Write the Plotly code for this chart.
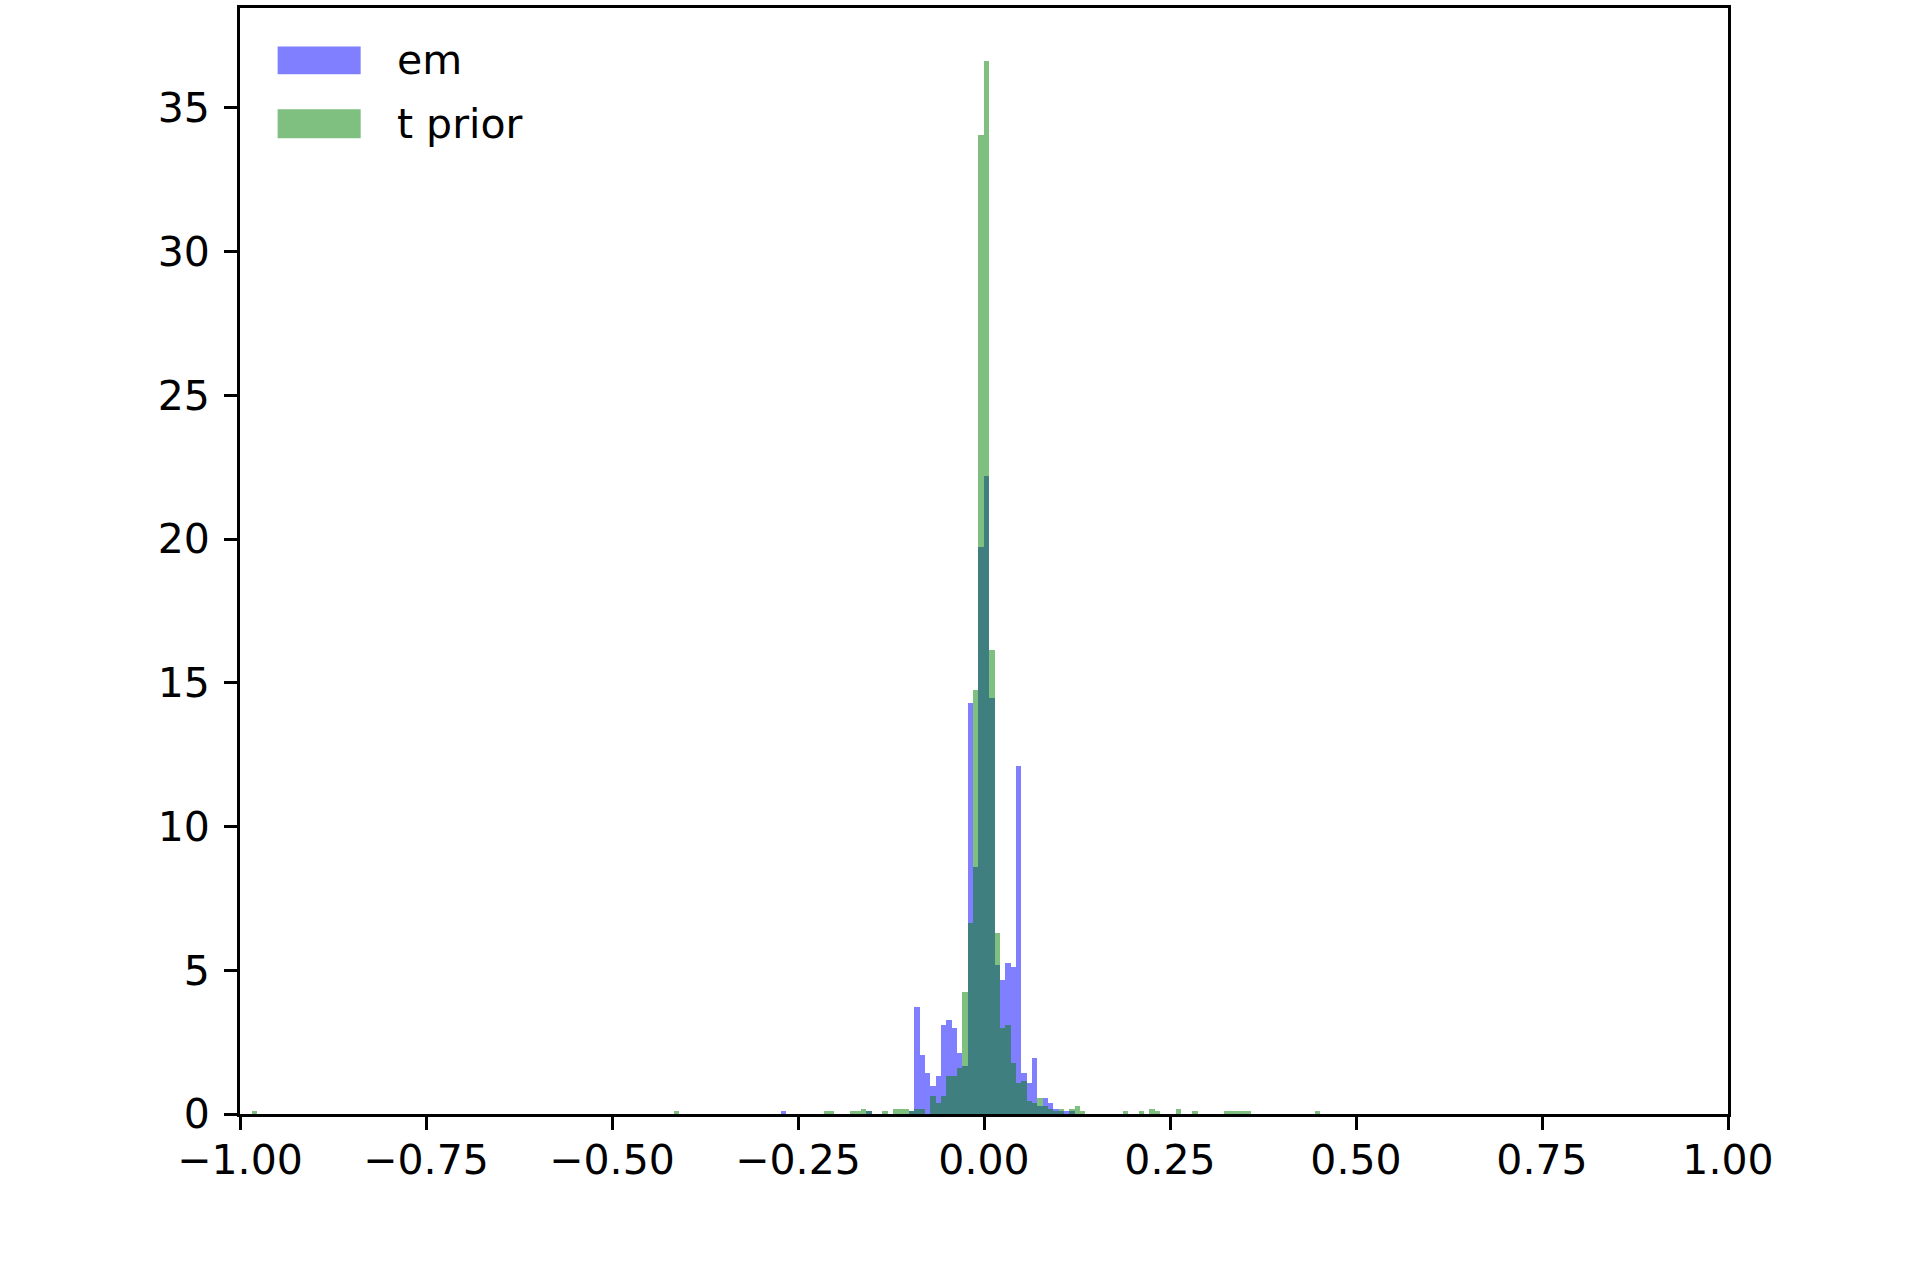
import plotly.graph_objects as go

# Histogram bin grid (200 bins spanning the data range)
bin_start = -0.9839
bin_width = 0.00718

# "em" series: bin index -> density
em_bins = [99, 115, 123, 124, 125, 126, 127, 128, 129, 130, 131, 132, 133, 134, 135,
           136, 137, 138, 139, 140, 141, 142, 143, 144, 145, 146, 147, 148, 149, 150,
           151, 152, 153]
em_vals = [0.094, 0.094, 0.10, 3.71, 2.05, 1.42, 0.97, 1.32, 3.09, 3.26, 2.98, 2.12, 1.67,
           14.29, 8.60, 19.74, 22.20, 14.47, 5.17, 4.65, 5.27, 5.10, 12.11, 1.42, 1.08,
           1.94, 0.28, 0.55, 0.38, 0.17, 0.10, 0.10, 0.10]

# "t prior" series: bin index -> density
tp_bins = [0, 79, 107, 108, 112, 113, 114, 115, 118, 120, 121, 122, 123, 124, 125, 127,
           128, 129, 130, 131, 132, 133, 134, 135, 136, 137, 138, 139, 140, 141, 142, 143,
           144, 145, 146, 147, 148, 149, 150, 151, 153, 154, 155, 163, 166, 168, 169, 173,
           176, 182, 183, 184, 185, 186, 199]
tp_vals = [0.094, 0.094, 0.094, 0.094, 0.094, 0.094, 0.17, 0.094, 0.094, 0.17, 0.17, 0.17,
           0.10, 0.17, 0.17, 0.62, 0.38, 0.62, 1.32, 1.32, 1.60, 4.23, 6.66, 14.75, 34.04,
           36.64, 16.14, 6.31, 2.98, 3.09, 1.77, 1.08, 1.15, 0.45, 0.38, 0.55, 0.28, 0.17,
           0.10, 0.17, 0.17, 0.28, 0.094, 0.094, 0.094, 0.17, 0.094, 0.17, 0.094, 0.094,
           0.094, 0.094, 0.094, 0.094, 0.094]

x_ticks = [-1.0, -0.75, -0.5, -0.25, 0.0, 0.25, 0.5, 0.75, 1.0]
x_tick_text = ["\u22121.00", "\u22120.75", "\u22120.50", "\u22120.25", "0.00", "0.25", "0.50", "0.75", "1.00"]
y_ticks = [0, 5, 10, 15, 20, 25, 30, 35]
series_names = ["em", "t prior"]
series_colors = ["rgba(0,0,255,0.5)", "rgba(0,128,0,0.5)"]

FONT = "DejaVu Sans"
FS = 41

fig = go.Figure()
for name, bins, vals, col in [(series_names[0], em_bins, em_vals, series_colors[0]),
                              (series_names[1], tp_bins, tp_vals, series_colors[1])]:
    fig.add_trace(go.Bar(
        x=[bin_start + k * bin_width for k in bins],
        y=vals,
        width=bin_width,
        offset=0,
        marker=dict(color=col, line=dict(width=0)),
        name=name,
        showlegend=False,
    ))

ymax = max(max(em_vals), max(tp_vals)) * 1.05

fig.update_layout(
    width=1920, height=1272,
    margin=dict(l=240, r=192, t=5, b=158, pad=0),
    paper_bgcolor="white", plot_bgcolor="white",
    barmode="overlay", bargap=0,
    font=dict(family=FONT, size=FS, color="black"),
    xaxis=dict(range=[-1, 1], tickvals=x_ticks, ticktext=x_tick_text,
               showgrid=False, zeroline=False, showline=True, mirror=True,
               linecolor="black", linewidth=2.9, ticks="outside", ticklen=13,
               tickwidth=2.9, tickcolor="black", ticklabelstandoff=-5,
               tickfont=dict(family=FONT, size=FS)),
    yaxis=dict(range=[0, ymax], tickvals=y_ticks,
               showgrid=False, zeroline=False, showline=True, mirror=True,
               linecolor="black", linewidth=2.9, ticks="outside", ticklen=13,
               tickwidth=2.9, tickcolor="black", ticklabelstandoff=6,
               tickfont=dict(family=FONT, size=FS)),
)

# Legend (matplotlib-style wide swatches)
legend_rows = [(0.9400, 0.9653), (0.8823, 0.9085)]
for (y0, y1), name, col in zip(legend_rows, series_names, series_colors):
    fig.add_shape(type="rect", xref="paper", yref="paper", x0=0.0253, x1=0.0811,
                  y0=y0, y1=y1, fillcolor=col, line=dict(width=0))
    fig.add_annotation(xref="paper", yref="paper", x=0.1045, y=(y0 + y1) / 2,
                       text=name, showarrow=False, xanchor="left", yanchor="middle",
                       font=dict(family=FONT, size=FS, color="black"))

fig.write_html("out.html", config={"displayModeBar": False},
               post_script="document.body.style.margin='0';")
